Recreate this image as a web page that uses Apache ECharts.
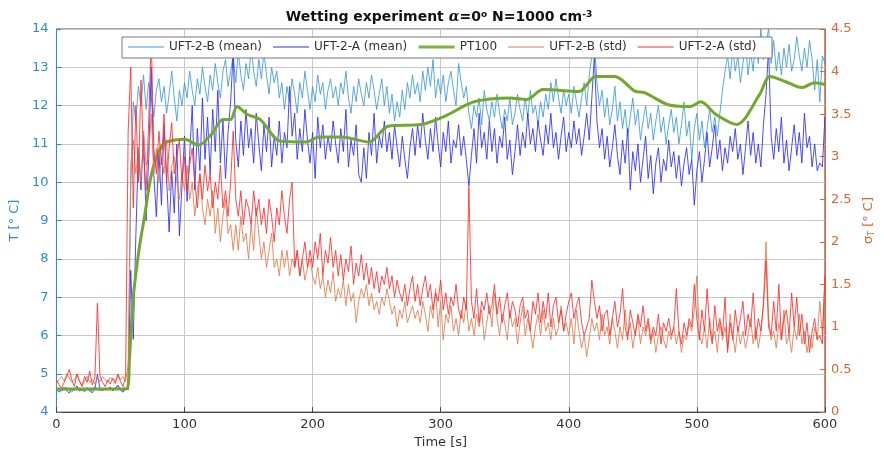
<!DOCTYPE html>
<html>
<head>
<meta charset="utf-8">
<script src="https://cdn.jsdelivr.net/npm/echarts@6/dist/echarts.min.js"></script>
<style>
  html, body { margin: 0; padding: 0; background: #fff; }
  #chart { width: 884px; height: 454px; }
</style>
</head>
<body>
<div id="chart"></div>
<script>
// sampling time of the sensor series, one value every 2 s
var timeStep = 2;
var xTicks = [0, 100, 200, 300, 400, 500, 600];

// UFT-2-B (mean), deg C
var bMean = [
  4.62, 4.58, 4.55, 4.6, 4.64, 4.57, 4.52, 4.6, 4.66, 4.58,
  4.55, 4.6, 4.63, 4.54, 4.58, 4.66, 4.6, 4.55, 4.62, 4.58,
  4.6, 4.65, 4.57, 4.62, 4.7, 4.6, 4.55, 4.62, 4.6, 9.8,
  12.1, 11.6, 12.5, 12.0, 12.8, 11.9, 12.6, 12.2, 11.7, 12.4,
  12.7, 12.1, 12.5, 11.8, 12.3, 12.9, 12.2, 11.6, 12.4, 12.0,
  12.6, 12.2, 12.9, 12.4, 12.0, 12.7, 12.3, 13.0, 12.5, 12.1,
  12.8, 12.4, 13.1, 12.6, 12.2, 12.9, 13.2, 12.5, 12.9, 13.3,
  12.6, 13.4, 12.8, 12.4, 13.1, 12.7, 13.5, 12.9, 12.5, 13.2,
  12.7, 13.4, 12.8, 12.3, 13.0, 12.6, 12.9, 12.2, 12.6, 11.9,
  12.5, 12.1, 12.7, 12.3, 11.8, 12.6, 12.2, 12.9, 12.4, 11.9,
  12.5, 12.1, 12.8, 12.3, 12.6, 11.9, 12.4, 12.7, 12.2, 12.5,
  12.0, 12.6, 12.3, 12.9, 12.2, 11.8, 12.5, 12.1, 12.7, 12.3,
  12.0, 12.6, 12.2, 12.8, 12.4, 11.9, 12.3, 12.7, 12.0, 12.5,
  11.8, 12.3, 11.6, 12.1, 11.7, 12.4, 11.9, 12.6, 12.2, 12.8,
  12.3, 12.6, 12.1, 12.9, 12.4, 13.0, 12.5, 13.2, 12.2, 12.7,
  12.3, 12.8, 12.1, 12.6, 12.9, 12.4, 12.0, 13.1, 12.6, 12.2,
  12.5, 11.8, 11.4, 12.0, 11.7, 12.2, 11.5, 12.4, 11.9, 11.6,
  12.1, 11.7, 12.3, 11.8, 11.4, 11.9, 11.6, 12.2, 11.5, 11.8,
  12.3, 11.9, 11.6, 12.2, 11.7, 12.4, 11.8, 12.0, 11.5, 12.1,
  11.7, 12.3, 11.9, 12.6, 12.1, 12.7, 12.2, 11.8, 12.4, 12.0,
  12.3, 11.8, 12.5, 12.1, 11.7, 12.2, 12.6, 12.0, 12.8, 13.3,
  13.7, 12.6, 12.0, 12.4, 11.7, 12.2, 11.5, 11.9, 12.5, 11.6,
  12.1, 11.4, 11.9, 11.2, 11.7, 12.2, 11.5, 11.9, 11.1, 11.6,
  12.0, 11.4, 11.8, 11.1, 11.6, 12.0, 11.3, 11.7, 11.0, 11.5,
  11.9, 11.3, 11.7, 11.0, 11.5, 12.1, 11.2, 11.6, 10.6, 11.4,
  11.8, 11.1, 11.6, 10.9, 11.4, 11.9, 11.3, 11.7, 11.2, 11.8,
  12.4, 12.9, 13.3, 12.7, 13.5, 12.9, 13.3, 12.6, 13.1, 13.6,
  12.8, 13.4, 12.9, 13.8, 13.1, 14.0, 13.2, 13.6, 14.0, 13.1,
  13.7, 12.9, 13.4, 12.8, 13.5, 13.0, 13.6, 12.9, 13.2, 13.8,
  13.3, 12.9, 13.5, 13.0, 13.7, 13.2, 12.4, 13.2, 12.1, 13.3,
  13.1
];

// UFT-2-A (mean), deg C
var aMean = [
  4.6, 4.52, 4.58, 4.65, 4.55, 4.5, 4.62, 4.57, 4.68, 4.55,
  4.6, 4.53, 4.64, 4.58, 4.5, 4.62, 4.98, 4.6, 4.55, 4.63,
  4.58, 4.66, 4.55, 4.62, 4.7, 4.57, 4.52, 4.6, 4.58, 7.7,
  5.9, 8.6, 10.9, 9.8, 11.3, 9.0, 10.6, 13.0, 10.2, 9.1,
  10.8, 9.4, 11.5, 10.1, 8.7, 10.3, 9.2, 11.0, 8.6, 9.9,
  11.2, 9.5, 10.7, 12.0, 9.8, 11.4, 10.3, 12.2, 10.6, 11.7,
  10.2, 11.9, 10.8, 12.4, 10.5, 11.6, 10.1, 11.3, 12.1, 13.4,
  11.1, 10.4, 11.6, 10.7, 11.9, 10.9, 11.4, 10.5, 11.8, 11.0,
  10.3, 11.5, 10.8, 11.7, 10.4, 11.2, 10.7, 11.6, 10.5, 11.3,
  10.9, 12.5, 11.2, 11.8, 10.6, 11.4, 10.8, 11.9, 11.1, 10.5,
  11.3, 10.1, 11.7, 10.9, 11.5, 10.6, 11.2, 10.8, 11.6, 11.0,
  10.5, 11.4, 10.8, 11.9, 10.4, 11.1, 10.7, 11.5, 10.2, 10.0,
  10.9, 10.1, 11.3, 10.7, 11.8, 10.5, 11.2, 10.9, 11.6, 10.8,
  11.3, 10.6, 11.5, 10.9, 10.4, 11.2, 10.6, 10.1, 10.9, 11.4,
  10.7, 11.5, 10.9, 11.8, 11.1, 10.6, 11.4, 10.8, 11.7, 11.0,
  10.4, 11.3, 10.8, 11.6, 10.5, 11.1, 10.9, 11.5, 10.7, 11.2,
  10.6, 9.9, 10.7, 11.4, 10.5, 11.8, 10.9, 11.3, 10.6, 11.6,
  10.8, 11.4, 10.5, 11.2, 10.9, 11.7, 10.6, 11.1, 10.2, 10.8,
  11.5, 10.7, 11.3, 10.9, 11.8, 11.0, 11.4, 10.8, 11.6, 11.1,
  10.7, 11.5, 11.0, 11.8, 10.9, 11.3, 10.6, 11.2, 11.7, 10.8,
  11.3, 10.9, 11.6, 11.0, 11.4, 10.7, 11.2, 11.8, 11.1, 12.2,
  13.3, 11.6, 10.9, 11.4, 10.6, 11.2, 10.4, 10.9, 11.5, 10.7,
  10.2, 11.1, 10.5, 11.4, 9.8, 10.8, 10.3, 11.0, 10.0, 10.6,
  11.2, 10.1, 10.7, 9.7, 10.5, 10.9, 10.0, 10.6, 10.3, 11.1,
  10.4, 10.8, 10.1, 10.7, 9.9, 10.5, 10.9, 10.2, 10.6, 9.4,
  10.3, 10.8, 10.0, 10.6, 11.3, 10.4, 10.9, 11.5, 10.6, 11.1,
  10.3, 10.9, 10.5, 11.2, 10.8, 11.4, 10.6, 11.0, 10.2, 10.9,
  11.6, 10.7, 11.3, 10.5, 11.0, 10.4, 11.5, 12.3, 13.5, 11.2,
  10.6, 11.4, 10.8, 11.7, 10.5, 11.1, 10.3, 10.9, 11.5, 10.7,
  11.3, 10.5, 11.8, 10.9, 11.2, 10.4, 11.0, 10.3, 10.5, 10.4,
  11.7
];

// PT100 reference, own time stamps (smooth)
var ptTime = [0, 20, 40, 55, 57, 60, 64.6, 68.5, 74.6, 82, 88, 100, 111, 121, 130, 136, 141, 149, 159, 175,
  195, 205, 223, 244, 259, 285, 303, 326, 354, 367, 380, 408, 421, 436, 452, 459, 477, 490, 495, 503,
  515, 531, 549, 557, 569, 582, 592, 600];
var ptTemp = [4.6, 4.6, 4.6, 4.62, 5.4, 7.0, 8.27, 9.05, 10.27, 10.94, 11.07, 11.12, 10.97, 11.25, 11.64, 11.64, 11.98, 11.77, 11.64, 11.07,
  11.05, 11.18, 11.18, 11.05, 11.46, 11.51, 11.72, 12.1, 12.2, 12.16, 12.42, 12.37, 12.76, 12.76, 12.37, 12.34, 12.03, 11.98, 11.98, 12.1,
  11.77, 11.51, 12.29, 12.76, 12.63, 12.47, 12.6, 12.55];

// UFT-2-B (std), deg C, right axis
var bStd = [
  0.33, 0.38, 0.42, 0.36, 0.45, 0.4, 0.35, 0.38, 0.44, 0.37,
  0.32, 0.36, 0.42, 0.35, 0.38, 0.33, 0.4, 0.36, 0.42, 0.38,
  0.35, 0.41, 0.37, 0.33, 0.45, 0.38, 0.42, 0.36, 0.55, 2.9,
  3.2, 2.8, 3.1, 2.7, 3.3, 2.9, 3.0, 3.5, 2.8, 3.1,
  2.7, 3.0, 2.8, 3.2, 2.6, 2.9, 3.0, 2.7, 2.5, 2.8,
  2.6, 2.9, 2.5, 2.7, 2.3, 2.6, 2.8, 2.4, 2.2, 2.5,
  2.3, 2.6, 2.1, 2.4, 2.0, 2.3, 2.5, 2.1, 2.2, 1.9,
  2.2, 1.9, 2.3, 2.0, 2.1, 1.8, 2.2, 1.9, 2.4, 2.1,
  1.8, 2.0, 1.7, 1.9, 2.1, 1.7, 1.8, 1.6, 1.9, 1.7,
  1.9, 1.6, 1.8, 1.7, 1.9, 1.6, 1.8, 1.55, 1.7, 1.8,
  1.6, 1.5, 1.7, 1.45, 1.6, 1.35, 1.55, 1.4, 1.65, 1.3,
  1.45, 1.35, 1.55, 1.25, 1.5, 1.3, 1.4, 1.05, 1.3, 1.45,
  1.35, 1.5, 1.25, 1.4, 1.2, 1.3, 1.15, 1.35, 1.25, 1.45,
  1.3, 1.15, 1.25, 1.0, 1.2, 1.1, 1.3, 1.05, 1.15, 1.25,
  1.1, 1.2, 1.05, 1.3, 1.15, 0.95, 1.25, 1.1, 1.45, 1.0,
  1.3, 0.85, 1.15, 1.05, 1.25, 0.95, 1.1, 0.9, 1.2, 1.05,
  1.3, 0.95, 1.1, 0.9, 1.15, 1.0, 1.2, 0.85, 1.05, 1.25,
  1.0, 1.4, 1.1, 0.9, 1.15, 1.05, 0.85, 1.2, 1.0, 1.1,
  0.8, 1.05, 1.25, 0.9, 1.1, 0.95, 0.75, 1.0, 1.15, 0.9,
  1.2, 0.95, 1.05, 0.85, 1.1, 0.9, 1.0, 1.25, 0.95, 1.05,
  0.9, 1.1, 0.8, 1.2, 0.95, 0.75, 0.9, 0.65, 0.85, 1.1,
  0.95, 1.05, 0.85, 1.15, 0.9, 1.0, 0.8, 1.1, 0.95, 0.75,
  1.0, 0.85, 1.2, 0.9, 1.05, 0.75, 0.95, 1.1, 0.8, 1.0,
  0.9, 1.05, 0.8, 0.95, 0.7, 0.9, 1.0, 0.85, 0.75, 0.95,
  0.85, 1.0, 0.8, 0.95, 0.7, 0.9, 0.85, 1.05, 0.95, 1.2,
  1.6, 0.9, 0.8, 1.0, 0.75, 1.1, 0.85, 0.95, 0.7, 1.05,
  0.85, 1.0, 0.75, 1.15, 0.9, 0.7, 1.0, 0.8, 0.95, 0.75,
  0.9, 1.1, 0.8, 1.0, 0.75, 0.95, 1.3, 2.0, 1.1, 0.85,
  0.95, 0.75, 1.05, 0.85, 1.2, 0.8, 0.9, 0.7, 1.0, 0.85,
  1.15, 0.8, 0.95, 0.7, 0.9, 0.75, 1.0, 0.85, 1.3, 0.9,
  1.6
];

// UFT-2-A (std), deg C, right axis
var aStd = [
  0.38, 0.32, 0.28, 0.35, 0.42, 0.5, 0.38, 0.3, 0.45, 0.36,
  0.3, 0.42, 0.35, 0.48, 0.32, 0.4, 1.28, 0.42, 0.35, 0.3,
  0.38, 0.33, 0.4, 0.35, 0.44, 0.36, 0.3, 0.42, 3.3, 4.05,
  2.4, 3.6, 2.7, 3.9, 3.0, 2.6, 3.4, 4.4, 3.1, 2.8,
  3.3, 2.9, 3.5, 2.7, 3.1, 3.4, 2.8, 3.0, 3.2, 2.7,
  3.0, 2.6, 2.9, 3.1, 2.7, 2.4, 2.8, 2.5, 2.9, 2.6,
  2.8, 2.4, 2.7, 2.5, 2.9, 2.4, 2.6, 2.3, 2.7, 3.3,
  2.5, 2.3, 2.6, 2.2, 2.5, 2.4, 2.2, 2.6, 2.3, 2.5,
  2.2, 2.4, 2.1, 2.5, 2.3, 2.0, 2.4, 2.2, 2.6, 2.3,
  2.1, 2.5, 2.7, 1.7, 1.9, 1.6, 1.8, 2.0, 1.7, 1.9,
  1.7, 2.0, 1.8, 2.1, 1.6, 1.9, 1.75, 2.05, 1.7, 1.9,
  1.6, 1.85, 1.55, 1.8, 1.65, 1.95, 1.5, 1.75, 1.6, 1.85,
  1.55, 1.75, 1.5, 1.7, 1.45, 1.65, 1.4, 1.6, 1.5, 1.7,
  1.45, 1.6, 1.35, 1.55, 1.4, 1.3, 1.5, 1.25, 1.45, 1.6,
  1.3, 1.5, 1.25, 1.45, 1.6, 1.35, 1.5, 1.2, 1.4, 1.3,
  1.55, 1.2, 1.4, 1.15, 1.35, 1.25, 1.5, 1.2, 1.1, 1.35,
  1.2, 2.65, 1.3, 1.1, 1.45, 1.05, 1.3, 1.2, 1.4, 1.15,
  1.25, 1.5, 1.15, 1.35, 1.05, 1.25, 1.4, 1.1, 1.3, 1.2,
  1.0, 1.25, 1.35, 1.1, 1.2, 0.95, 1.3, 1.15, 1.4, 1.05,
  1.3, 1.1, 1.4, 1.0, 1.25, 1.35, 1.05, 1.2, 0.95, 1.15,
  1.3, 1.4, 1.1, 1.25, 1.35, 1.05, 0.9, 1.0, 1.1, 1.55,
  1.3, 1.1, 1.25, 0.95, 1.15, 1.2, 0.9, 1.1, 1.3, 1.0,
  1.15, 1.45, 1.0, 0.85, 1.2, 1.05, 0.9, 1.15, 1.0, 1.25,
  0.95, 1.1, 0.85, 1.0, 0.9, 1.15, 0.8, 1.05, 0.95, 1.1,
  0.9, 1.0, 1.45, 0.95, 0.8, 1.05, 0.9, 1.1, 1.0, 1.5,
  1.1, 0.85, 1.2, 0.95, 1.45, 1.0, 0.8, 1.25, 0.95, 1.1,
  0.9, 1.35, 0.7, 1.05, 0.85, 1.2, 0.95, 1.1, 1.3, 0.9,
  1.15, 1.0, 1.4, 0.85, 1.1, 0.95, 1.25, 1.78, 1.0, 0.9,
  1.3, 0.95, 1.5, 0.85, 1.1, 1.2, 0.9, 1.4, 1.0, 1.35,
  0.9, 1.15, 0.8, 1.05, 0.7, 0.95, 1.1, 0.85, 0.9, 0.8,
  1.6
];

var leftColor = '#2f8ccb';
var rightColor = '#e0642e';
var font = 'DejaVu Sans';

// pair sample index with time
function toPairs(values) {
  var out = [];
  for (var i = 0; i < values.length; i++) {
    out.push([i * timeStep, values[i]]);
  }
  return out;
}

var ptPairs = [];
for (var k = 0; k < ptTime.length; k++) {
  ptPairs.push([ptTime[k], ptTemp[k]]);
}

function thinLine(name, data, color, axis) {
  return {
    name: name,
    type: 'line',
    yAxisIndex: axis,
    data: data,
    symbol: 'none',
    smooth: false,
    lineStyle: { color: color, width: 1, opacity: 0.85 },
    itemStyle: { color: color }
  };
}

var chart = echarts.init(document.getElementById('chart'));
chart.setOption({
  animation: false,
  textStyle: { fontFamily: font },
  title: {
    text: 'Wetting experiment {a|α}=0{s|o} N=1000 cm{s|-3}',
    left: 434,
    textAlign: 'center',
    top: 5,
    textStyle: {
      fontFamily: font,
      fontSize: 14,
      fontWeight: 'bold',
      color: '#111',
      rich: {
        a: { fontFamily: 'DejaVu Serif', fontStyle: 'italic', fontSize: 14, color: '#111' },
        s: { fontSize: 9, fontWeight: 'bold', verticalAlign: 'top', color: '#111', padding: [0, 0, 6, 0] }
      }
    }
  },
  // legend frame, on its own layer above the series, under the legend items
  graphic: [{
    type: 'rect',
    zlevel: 1,
    z: 1,
    silent: true,
    shape: { x: 122, y: 37, width: 650, height: 21 },
    style: { fill: '#fff', stroke: '#777', lineWidth: 1 }
  }],
  legend: {
    left: 122,
    top: 37,
    padding: [4, 5, 4, 5],
    itemWidth: 36,
    itemHeight: 10,
    itemGap: 10,
    zlevel: 1,
    z: 5,
    itemStyle: { opacity: 0 },
    lineStyle: { opacity: 0.5 },
    textStyle: { fontFamily: font, fontSize: 12, color: '#333' },
    data: [
      { name: 'UFT-2-B (mean)' },
      { name: 'UFT-2-A (mean)' },
      { name: 'PT100', lineStyle: { width: 3, opacity: 0.9 } },
      { name: 'UFT-2-B (std)' },
      { name: 'UFT-2-A (std)' }
    ]
  },
  grid: {
    left: 53,
    right: 49,
    top: 29,
    bottom: 39,
    show: true,
    borderColor: '#555',
    borderWidth: 1,
    backgroundColor: '#fff'
  },
  xAxis: {
    type: 'value',
    min: xTicks[0],
    max: xTicks[xTicks.length - 1],
    interval: 100,
    name: 'Time [s]',
    nameLocation: 'middle',
    nameGap: 22,
    nameTextStyle: { fontFamily: font, fontSize: 13, color: '#333' },
    axisLine: { lineStyle: { color: '#444' } },
    axisTick: { inside: true, length: 5, lineStyle: { color: '#444' } },
    axisLabel: { fontFamily: font, fontSize: 13, color: '#333', margin: 6 },
    splitLine: { show: true, lineStyle: { color: '#c8c8c8', width: 1 } }
  },
  yAxis: [{
    type: 'value',
    position: 'left',
    min: 4,
    max: 14,
    interval: 1,
    name: 'T [° C]',
    nameLocation: 'middle',
    nameGap: 27,
    nameRotate: 90,
    nameTextStyle: { fontFamily: font, fontSize: 13, color: leftColor },
    axisLine: { show: true, lineStyle: { color: leftColor } },
    axisTick: { show: true, inside: true, length: 5, lineStyle: { color: leftColor } },
    axisLabel: { fontFamily: font, fontSize: 13, color: leftColor, margin: 8 },
    splitLine: { show: true, lineStyle: { color: '#c8c8c8', width: 1 } }
  }, {
    type: 'value',
    position: 'right',
    min: 0,
    max: 4.5,
    interval: 0.5,
    name: 'σ{t|T} [° C]',
    nameLocation: 'middle',
    nameGap: 36,
    nameRotate: 90,
    nameTextStyle: {
      fontFamily: font, fontSize: 13, color: rightColor,
      rich: { t: { fontSize: 8, color: rightColor, verticalAlign: 'bottom', padding: [6, 0, 0, 0] } }
    },
    axisLine: { show: true, lineStyle: { color: rightColor } },
    axisTick: { show: true, inside: true, length: 5, lineStyle: { color: rightColor } },
    axisLabel: { fontFamily: font, fontSize: 13, color: rightColor, margin: 6 },
    splitLine: { show: false }
  }],
  series: [
    thinLine('UFT-2-B (mean)', toPairs(bMean), '#3d9ad8', 0),
    thinLine('UFT-2-A (mean)', toPairs(aMean), '#2b2bff', 0),
    {
      name: 'PT100',
      type: 'line',
      yAxisIndex: 0,
      data: ptPairs,
      symbol: 'none',
      smooth: 0.3,
      lineStyle: { color: '#72a82e', width: 3 },
      itemStyle: { color: '#72a82e' }
    },
    thinLine('UFT-2-B (std)', toPairs(bStd), '#e27a4c', 1),
    thinLine('UFT-2-A (std)', toPairs(aStd), '#ff2b2b', 1)
  ]
});
</script>
</body>
</html>
